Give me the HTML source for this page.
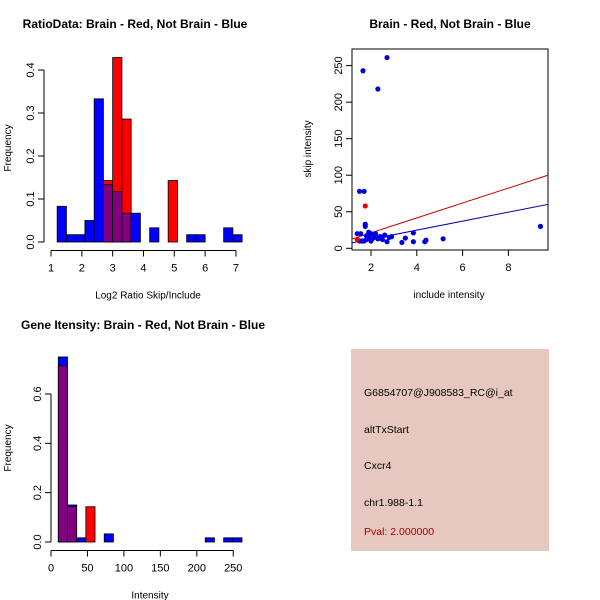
<!DOCTYPE html>
<html><head><meta charset="utf-8"><style>
body{margin:0;background:#fff}
svg{display:block;font-family:"Liberation Sans",sans-serif}
</style></head><body>
<svg id="c" width="600" height="600"></svg>
<script>
// Panel 1 data (ratio histogram, bins start 1.2 step 0.3)
const ratioBreakStart = 1.2;
const ratioBinWidth = 0.3;
const ratioBlue = [0.083,0.017,0.017,0.05,0.333,0.133,0.117,0.067,0.067,0,0.033,0,0,0,0.017,0.017,0,0,0.033,0.017];
const ratioRed  = [0,0,0,0,0,0.143,0.429,0.286,0,0,0,0,0.143,0,0,0,0,0,0,0];
const ratioXTicks = [1,2,3,4,5,6,7];
const ratioYTicks = ["0.0","0.1","0.2","0.3","0.4"];
// Panel 2 data (scatter)
const scatterBlueX = [1.65,2.7,2.3,1.5,1.7,1.75,1.75,9.4,3.85,3.35,3.5,3.85,4.35,4.4,5.15,2.7,1.4,1.55,1.6,1.5,1.7,1.8,1.9,2.0,2.1,2.2,2.3,2.4,2.5,2.6,2.8,2.9,2.0,1.9,2.2,1.8];
const scatterBlueY = [243,261,218,78,78,33,30,30,21,8,14,9,9,11,13,9,20,20,10,10,10,12,15,20,14,17,13,16,12,18,15,16,10,22,20,17];
const scatterRedX = [1.75,1.4];
const scatterRedY = [58,12];
const fitRed = [0.8,10.2];   // intercept, slope
const fitBlue = [0.2,6.16];
const scatterXTicks = [2,4,6,8];
const scatterYTicks = [0,50,100,150,200,250];
// Panel 3 data (intensity histogram, bins start 10 step 12.6)
const intBreakStart = 10;
const intBinWidth = 12.6;
const intBlue = [0.75,0.15,0.017,0,0,0.033,0,0,0,0,0,0,0,0,0,0,0.017,0,0.017,0.017];
const intRed  = [0.714,0.143,0,0.143,0,0,0,0,0,0,0,0,0,0,0,0,0,0,0,0];
const intXTicks = [0,50,100,150,200,250];
const intYTicks = ["0.0","0.2","0.4","0.6"];

const NS="http://www.w3.org/2000/svg";
const svg=document.getElementById('c');
function el(tag,attrs,parent,text){const e=document.createElementNS(NS,tag);for(const k in attrs)e.setAttribute(k,attrs[k]);if(text!==undefined)e.textContent=text;(parent||svg).appendChild(e);return e;}
function txt(x,y,s,opts,parent){const o=Object.assign({x:x,y:y,'font-size':11,'text-anchor':'middle',fill:'#000'},opts||{});return el('text',o,parent,s);}

function histPanel(cfg){
  const g=el('g',{});
  
  
  const sx=v=>cfg.x0+(v-cfg.xmin)*cfg.kx, sy=v=>cfg.y0-v*cfg.ky;
  const n=cfg.blue.length;
  for(let i=0;i<n;i++){
    const a=cfg.start+i*cfg.w,b=a+cfg.w;
    const bv=cfg.blue[i],rv=cfg.red[i];
    const draw=(v,col,nm)=>{if(v<=0)return;const r=el('rect',{x:sx(a),y:sy(v),width:sx(b)-sx(a),height:sy(0)-sy(v),fill:col,stroke:'#000','stroke-width':0.8},g);
      
      };
    if(bv>=rv){draw(bv,'#0000ff','bar-blue');draw(rv,'#800080','bar-overlap');}
    else{draw(rv,'#ff0000','bar-red');draw(bv,'#800080','bar-overlap');}
  }
  const ax=cfg.axisY;
  el('line',{x1:sx(cfg.xt[0]),x2:sx(cfg.xt[cfg.xt.length-1]),y1:ax,y2:ax,stroke:'#000'},g);
  cfg.xt.forEach(t=>{el('line',{x1:sx(t),x2:sx(t),y1:ax,y2:ax+6,stroke:'#000'},g);txt(sx(t),ax+21,String(t),{},g);});
  const lx=cfg.axisX;
  el('line',{x1:lx,x2:lx,y1:sy(+cfg.yt[0]),y2:sy(+cfg.yt[cfg.yt.length-1]),stroke:'#000'},g);
  cfg.yt.forEach(t=>{const y=sy(+t);el('line',{x1:lx-6,x2:lx,y1:y,y2:y,stroke:'#000'},g);txt(0,0,t,{transform:`translate(${lx-10},${y}) rotate(-90)`},g);});
  const t=txt(cfg.tx,cfg.ty,cfg.title,{'font-weight':'bold','font-size':12},g);
  txt(cfg.x0+cfg.labX,ax+48,cfg.xlab,{'font-size':10},g);
  txt(0,0,'Frequency',{'font-size':10,transform:`translate(11,${cfg.labY}) rotate(-90)`},g);
}
histPanel({name:'ratio-histogram',blue:ratioBlue,red:ratioRed,start:ratioBreakStart,w:ratioBinWidth,xmin:1,x0:51,kx:30.83,y0:242,ky:430,
  xt:ratioXTicks,yt:ratioYTicks,axisY:250.5,axisX:44,title:'RatioData: Brain - Red, Not Brain - Blue',tx:135,ty:28,xlab:'Log2 Ratio Skip/Include',labX:97,labY:148});
histPanel({name:'intensity-histogram',blue:intBlue,red:intRed,start:intBreakStart,w:intBinWidth,xmin:0,x0:51,kx:0.729,y0:542,ky:246.7,
  xt:intXTicks,yt:intYTicks,axisY:550.5,axisX:51,title:'Gene Itensity: Brain - Red, Not Brain - Blue',tx:143,ty:329,xlab:'Intensity',labX:99,labY:448});

(function(){
  const g=el('g',{});
  
  
  const sx=v=>371+(v-2)*22.9, sy=v=>248.3-v*0.7307;
  const L=352,R=548,T=49,B=250;
  el('rect',{x:L,y:T,width:R-L,height:B-T,fill:'none',stroke:'#000'},g);
  const clip=el('clipPath',{id:'sc'},g);el('rect',{x:L,y:T,width:R-L,height:B-T},clip);
  const xa=1.1,xb=9.8;
  [[fitRed,'#cc0000','fit-line-red'],[fitBlue,'#0000aa','fit-line-blue']].forEach(([f,c,nm])=>{
    const ln=el('line',{x1:sx(xa),y1:sy(f[0]+f[1]*xa),x2:sx(xb),y2:sy(f[0]+f[1]*xb),stroke:c,'stroke-width':1,'clip-path':'url(#sc)'},g);
    
    
  });
  scatterBlueX.forEach((x,i)=>{const p=el('circle',{cx:sx(x),cy:sy(scatterBlueY[i]),r:2.6,fill:'#0000e0'},g);
    
    });
  scatterRedX.forEach((x,i)=>{const p=el('circle',{cx:sx(x),cy:sy(scatterRedY[i]),r:2.6,fill:'#e00000'},g);
    
    });
  scatterXTicks.forEach(t=>{el('line',{x1:sx(t),x2:sx(t),y1:B,y2:B+6,stroke:'#000'},g);txt(sx(t),B+21,String(t),{},g);});
  scatterYTicks.forEach(t=>{const y=sy(t);el('line',{x1:L-6,x2:L,y1:y,y2:y,stroke:'#000'},g);txt(0,0,String(t),{transform:`translate(${L-10},${y}) rotate(-90)`},g);});
  txt(450,28,'Brain - Red, Not Brain - Blue',{'font-weight':'bold','font-size':12},g);
  txt(449,298,'include intensity',{'font-size':10},g);
  txt(0,0,'skip intensity',{'font-size':10,transform:`translate(311,149) rotate(-90)`},g);
})();
</script>
<div style="position:absolute;left:351px;top:349px;width:198px;height:202px;background:#e6c8c0;font-family:'Liberation Sans',sans-serif;font-size:10.5px">
<div style="position:absolute;left:13px;top:38px">G6854707@J908583_RC@i_at</div>
<div style="position:absolute;left:13px;top:75px">altTxStart</div>
<div style="position:absolute;left:13px;top:111px">Cxcr4</div>
<div style="position:absolute;left:13px;top:148px">chr1.988-1.1</div>
<div style="position:absolute;left:13px;top:177px;color:#aa0000">Pval: 2.000000</div>
</div>
</body></html>
